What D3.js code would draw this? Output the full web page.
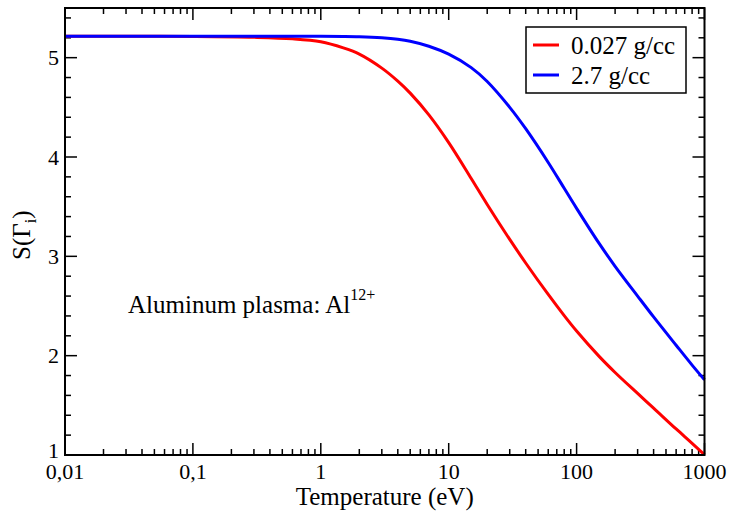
<!DOCTYPE html>
<html>
<head>
<meta charset="utf-8">
<script src="https://cdn.jsdelivr.net/npm/d3@7"></script>
<style>
  html, body { margin: 0; padding: 0; background: #fff; }
  svg { display: block; }
  svg text { font-family: "Liberation Serif", "Times New Roman", Times, Tinos, "DejaVu Serif", serif; }
</style>
</head>
<body>
<svg id="chart" width="730" height="516"></svg>
<script>
// Temperature grid (eV) and the ionic coupling function S(Γi) for two densities
const temperature = [0.01, 0.03, 0.1, 0.3, 0.6, 1, 1.5, 2, 3, 4, 5, 7, 10, 15, 20, 30, 40, 60, 80, 100, 150, 200, 300, 400, 600, 800, 1000];
const sLowDensity = [5.215, 5.215, 5.213, 5.205, 5.19, 5.16, 5.098, 5.036, 4.895, 4.764, 4.643, 4.424, 4.145, 3.784, 3.522, 3.170, 2.933, 2.616, 2.403, 2.248, 1.993, 1.831, 1.620, 1.472, 1.262, 1.118, 1.003];
const sHighDensity = [5.215, 5.215, 5.215, 5.215, 5.215, 5.215, 5.214, 5.211, 5.20, 5.185, 5.165, 5.115, 5.035, 4.90, 4.76, 4.50, 4.285, 3.945, 3.685, 3.483, 3.13, 2.90, 2.60, 2.39, 2.105, 1.905, 1.757];

const seriesNames = ["0.027 g/cc", "2.7 g/cc"];
const seriesColors = ["#ff0000", "#0000ff"];

const xMajorTicks = [0.01, 0.1, 1, 10, 100, 1000];
const xTickLabels = ["0,01", "0,1", "1", "10", "100", "1000"];
const yMajorTicks = [1, 2, 3, 4, 5];

const svg = d3.select("#chart");
const plot = { left: 65, right: 704.5, top: 8, bottom: 455 };

const x = d3.scaleLog().domain([0.01, 1000]).range([plot.left, plot.right]);
const y = d3.scaleLinear().domain([1, 5.5]).range([plot.bottom, plot.top]);

// minor ticks: 2..9 in each decade, and every 0.2 on the y axis
const xMinor = [];
for (let e = -2; e < 3; e++) for (let m = 2; m <= 9; m++) xMinor.push(m * Math.pow(10, e));
const yMinor = d3.range(1.2, 5.5, 0.2).filter(v => Math.abs(v - Math.round(v)) > 1e-6);

const majorLen = 12, minorLen = 6;
const tickG = svg.append("g").attr("stroke", "#000").attr("stroke-width", 1.5);

// bottom and top tick marks (pointing inward)
[[xMajorTicks, majorLen], [xMinor, minorLen]].forEach(([vals, len]) => {
  vals.forEach(v => {
    const px = x(v);
    tickG.append("line").attr("x1", px).attr("x2", px).attr("y1", plot.bottom).attr("y2", plot.bottom - len);
    tickG.append("line").attr("x1", px).attr("x2", px).attr("y1", plot.top).attr("y2", plot.top + len);
  });
});
// left and right tick marks
[[yMajorTicks, majorLen], [yMinor, minorLen]].forEach(([vals, len]) => {
  vals.forEach(v => {
    const py = y(v);
    tickG.append("line").attr("x1", plot.left).attr("x2", plot.left + len).attr("y1", py).attr("y2", py);
    tickG.append("line").attr("x1", plot.right).attr("x2", plot.right - len).attr("y1", py).attr("y2", py);
  });
});

// curves
const line = d3.line()
  .x(d => x(d[0]))
  .y(d => y(d[1]))
  .curve(d3.curveCatmullRom.alpha(0.5));

[sLowDensity, sHighDensity].forEach((vals, i) => {
  svg.append("path")
    .datum(temperature.map((t, k) => [t, vals[k]]))
    .attr("fill", "none")
    .attr("stroke", seriesColors[i])
    .attr("stroke-width", 3)
    .attr("d", line);
});

// frame
svg.append("rect")
  .attr("x", plot.left).attr("y", plot.top)
  .attr("width", plot.right - plot.left).attr("height", plot.bottom - plot.top)
  .attr("fill", "none").attr("stroke", "#000").attr("stroke-width", 2);

// tick labels
svg.append("g").selectAll("text").data(xMajorTicks).join("text")
  .attr("x", d => x(d))
  .attr("y", 479)
  .attr("text-anchor", "middle")
  .attr("font-size", 22)
  .text((d, i) => xTickLabels[i]);

svg.append("g").selectAll("text").data(yMajorTicks).join("text")
  .attr("x", 59)
  .attr("y", d => y(d) + (d === 1 ? 3 : 7.5))
  .attr("text-anchor", "end")
  .attr("font-size", 22)
  .text(d => d);

// axis titles
svg.append("text")
  .attr("x", (plot.left + plot.right) / 2)
  .attr("y", 505)
  .attr("text-anchor", "middle")
  .attr("font-size", 25)
  .text("Temperature (eV)");

const yTitle = svg.append("text")
  .attr("transform", "translate(30,260) rotate(-90)")
  .attr("font-size", 25);
yTitle.append("tspan").text("S(Γ");
yTitle.append("tspan").attr("font-size", 16).attr("dy", 6).text("i");
yTitle.append("tspan").attr("dy", -6).text(")");

// annotation
const note = svg.append("text")
  .attr("x", 128)
  .attr("y", 313)
  .attr("font-size", 25);
note.append("tspan").text("Aluminum plasma: Al");
note.append("tspan").attr("font-size", 16).attr("dy", -13).text("12+");

// legend
const legend = svg.append("g");
legend.append("rect")
  .attr("x", 526).attr("y", 27).attr("width", 160).attr("height", 66)
  .attr("fill", "#fff").attr("stroke", "#000").attr("stroke-width", 1.5);
seriesNames.forEach((name, i) => {
  const ly = 45 + i * 30;
  legend.append("line")
    .attr("x1", 533).attr("x2", 559).attr("y1", ly).attr("y2", ly)
    .attr("stroke", seriesColors[i]).attr("stroke-width", 3);
  legend.append("text")
    .attr("x", 571).attr("y", ly + 8.5)
    .attr("font-size", 25)
    .text(name);
});
</script>
</body>
</html>
